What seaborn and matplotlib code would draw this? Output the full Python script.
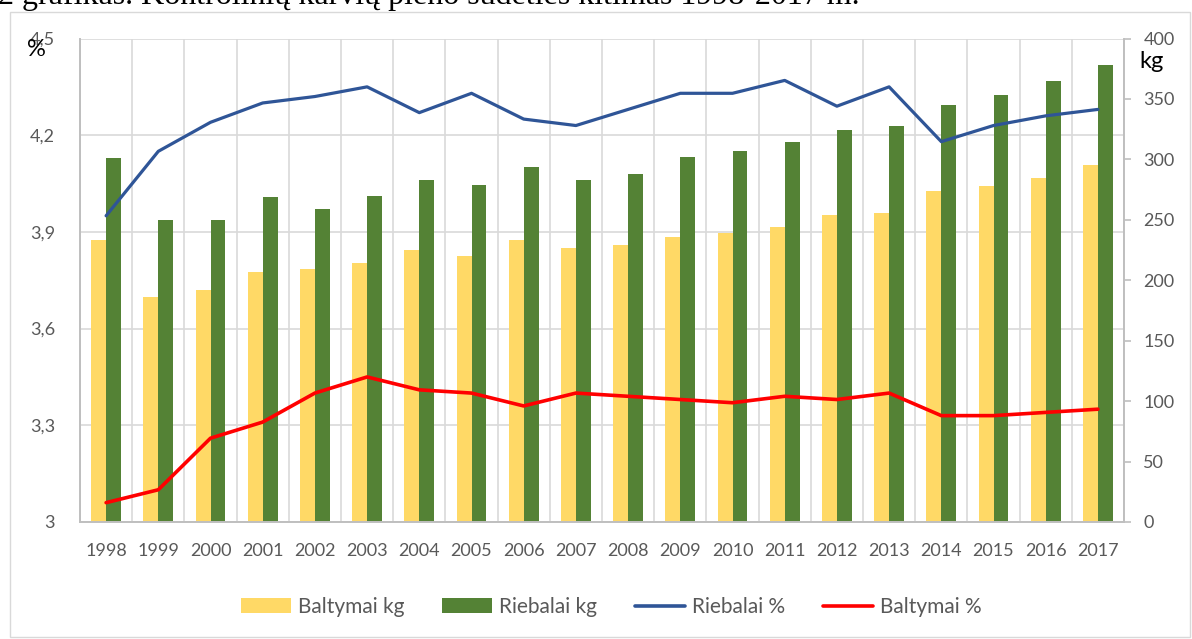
"""
Kontrolinių karvių pieno sudėtis 1998-2017 m. (bars: kg, lines: %)
"""

import numpy as np
import pandas as pd
import matplotlib
matplotlib.use("Agg")
import matplotlib.pyplot as plt
import seaborn as sns
from matplotlib.patches import Patch, Rectangle
from matplotlib.lines import Line2D

# ============================================================
# Data
# ============================================================
YEARS = ['1998', '1999', '2000', '2001', '2002', '2003', '2004', '2005', '2006', '2007',
         '2008', '2009', '2010', '2011', '2012', '2013', '2014', '2015', '2016', '2017']
BALTYMAI_KG = [233, 186, 192, 207, 209, 214, 225, 220, 233, 227,
               229, 236, 239, 244, 254, 256, 274, 278, 285, 295]
RIEBALAI_KG = [301, 250, 250, 269, 259, 270, 283, 279, 294, 283,
               288, 302, 307, 314, 324, 328, 345, 353, 365, 378]
RIEBALAI_PCT = [3.95, 4.15, 4.24, 4.30, 4.32, 4.35, 4.27, 4.33, 4.25, 4.23,
                4.28, 4.33, 4.33, 4.37, 4.29, 4.35, 4.18, 4.23, 4.26, 4.28]
BALTYMAI_PCT = [3.06, 3.10, 3.26, 3.31, 3.40, 3.45, 3.41, 3.40, 3.36, 3.40,
                3.39, 3.38, 3.37, 3.39, 3.38, 3.40, 3.33, 3.33, 3.34, 3.35]

PCT_TICKS = [3.0, 3.3, 3.6, 3.9, 4.2, 4.5]
PCT_LABELS = ['3', '3,3', '3,6', '3,9', '4,2', '4,5']
KG_TICKS = [0, 50, 100, 150, 200, 250, 300, 350, 400]

TITLE = '2 grafikas. Kontrolinių karvių pieno sudėties kitimas 1998-2017 m.'

COLORS = {
    'Baltymai kg': '#FFD966',
    'Riebalai kg': '#548235',
    'Riebalai %': '#2F5597',
    'Baltymai %': '#FF0000',
}
GRID = '#D9D9D9'
AXIS = '#BFBFBF'
TEXT = '#595959'

sns.set_style('white')
plt.rcParams['font.family'] = ['Lato', 'DejaVu Sans']

W, H = 1192, 639
FS = 13
LEG_FS = 15

# ============================================================
# Figure
# ============================================================
fig = plt.figure(figsize=(W / 100, H / 100), dpi=100)
fig.patch.set_facecolor('white')

# chart frame + cut-off caption above it
fig.patches.append(Rectangle((10 / W, 2 / H), 1180 / W, 625 / H, transform=fig.transFigure,
                             fill=False, edgecolor=GRID, linewidth=1.0))
fig.text(-2 / W, 1 - 4 / H, TITLE, family='Liberation Serif', fontsize=23,
         color='black', ha='left', va='baseline')

axb = fig.add_axes([80 / W, 1 - 522 / H, 1044 / W, 483.5 / H])
ax2 = axb.twinx()   # lines (% axis) drawn over the bars

# long table for seaborn bars
df = pd.DataFrame({
    'year': YEARS * 2,
    'kg': BALTYMAI_KG + RIEBALAI_KG,
    'series': ['Baltymai kg'] * len(YEARS) + ['Riebalai kg'] * len(YEARS),
})
sns.barplot(data=df, x='year', y='kg', hue='series',
            hue_order=['Baltymai kg', 'Riebalai kg'], palette=COLORS,
            width=0.57, saturation=1, ax=axb, legend=False, zorder=2,
            edgecolor='none', linewidth=0)

axb.set_xlim(-0.5, len(YEARS) - 0.5)
axb.set_ylim(KG_TICKS[0], KG_TICKS[-1])

# grid behind the bars (horizontal lines follow the % axis ticks)
kg_per_pct = (KG_TICKS[-1] - KG_TICKS[0]) / (PCT_TICKS[-1] - PCT_TICKS[0])
for p in PCT_TICKS:
    axb.axhline((p - PCT_TICKS[0]) * kg_per_pct, color=GRID, lw=1.2, zorder=0)
for i in range(len(YEARS) + 1):
    axb.axvline(i - 0.5, color=GRID, lw=1.2, zorder=0)

axb.yaxis.tick_right()
axb.set_yticks(KG_TICKS)
axb.set_xlabel('')
axb.set_ylabel('')
axb.tick_params(axis='y', right=True, left=False, labelright=True, labelleft=False,
                length=5, width=1.2, color=AXIS, labelcolor=TEXT, labelsize=FS, pad=9)
axb.tick_params(axis='x', length=0, pad=15, labelcolor=TEXT, labelsize=FS)
axb.spines['top'].set_visible(False)
for side in ['left', 'right', 'bottom']:
    axb.spines[side].set_color(AXIS)
    axb.spines[side].set_linewidth(1.4)

# lines on the % axis (left)
x = np.arange(len(YEARS))
sns.lineplot(x=x, y=RIEBALAI_PCT, ax=ax2, color=COLORS['Riebalai %'], lw=2.3)
sns.lineplot(x=x, y=BALTYMAI_PCT, ax=ax2, color=COLORS['Baltymai %'], lw=2.6)
ax2.set_ylim(PCT_TICKS[0], PCT_TICKS[-1])
ax2.yaxis.tick_left()
ax2.set_yticks(PCT_TICKS)
ax2.set_yticklabels(PCT_LABELS)
ax2.tick_params(axis='y', left=True, right=False, labelleft=True, labelright=False,
                length=0, labelcolor=TEXT, labelsize=FS, pad=18)
for s in ax2.spines.values():
    s.set_visible(False)

# axis unit labels
fig.text(27 / W, 1 - 49 / H, '%', fontsize=17, color='black', ha='left', va='center')
fig.text(1139 / W, 1 - 61 / H, 'kg', fontsize=17, color='black', ha='left', va='center')

# legend
handles = [
    Patch(facecolor=COLORS['Baltymai kg'], edgecolor='none'),
    Patch(facecolor=COLORS['Riebalai kg'], edgecolor='none'),
    Line2D([], [], color=COLORS['Riebalai %'], lw=2.6),
    Line2D([], [], color=COLORS['Baltymai %'], lw=2.6),
]
labels = ['Baltymai kg', 'Riebalai kg', 'Riebalai %', 'Baltymai %']
leg = fig.legend(handles, labels, loc='center', bbox_to_anchor=(611 / W, 1 - 607 / H),
                 ncol=4, frameon=False, fontsize=LEG_FS, handlelength=2.4, handleheight=0.75,
                 handletextpad=0.35, columnspacing=1.8)
for t in leg.get_texts():
    t.set_color(TEXT)

fig.savefig('out.png', dpi=100, facecolor='white')
